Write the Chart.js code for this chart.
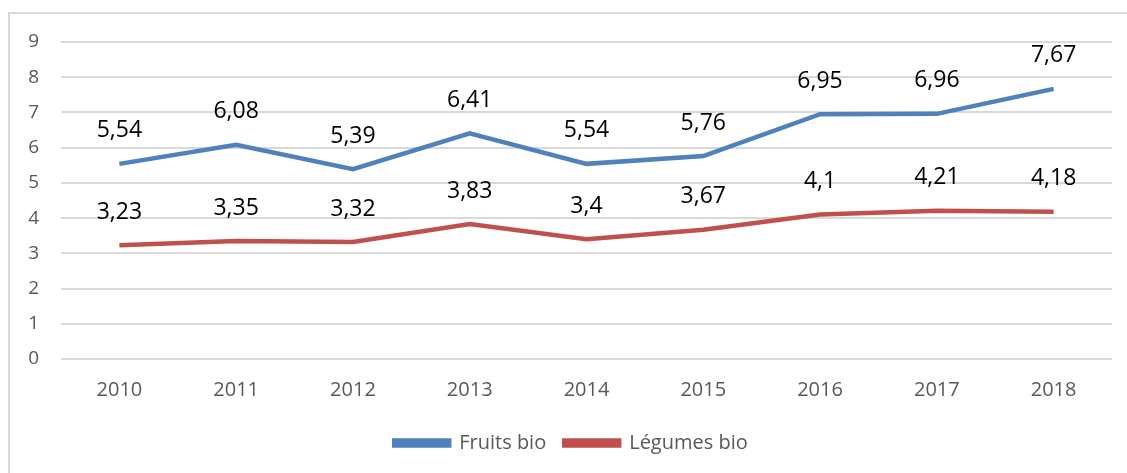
<!DOCTYPE html>
<html lang="fr">
<head>
    <meta charset="UTF-8">
    <title>Fruits et légumes bio</title>
    <script src="https://cdn.jsdelivr.net/npm/chart.js@4.4.1/dist/chart.umd.min.js"></script>
    <style>
        body {
            margin: 0;
            background: #ffffff;
            font-family: "Open Sans", sans-serif;
        }
        .frame {
            position: absolute;
            left: 8px;
            top: 12px;
            width: 1140px;
            height: 480px;
            border-left: 2px solid #d9d9d9;
            border-top: 2px solid #d9d9d9;
        }
        .chart-container {
            position: absolute;
            left: 0;
            top: 0;
            width: 1127px;
            height: 473px;
        }
    </style>
</head>
<body>
    <div class="frame"></div>
    <div class="chart-container">
        <canvas id="bioChart"></canvas>
    </div>

    <script>
        const years = ['2010', '2011', '2012', '2013', '2014', '2015', '2016', '2017', '2018'];
        const fruitsBio = [5.54, 6.08, 5.39, 6.41, 5.54, 5.76, 6.95, 6.96, 7.67];
        const legumesBio = [3.23, 3.35, 3.32, 3.83, 3.4, 3.67, 4.1, 4.21, 4.18];

        const frNum = v => String(v).replace('.', ',');

        // draws the value above each point, like Excel data labels
        const valueLabels = {
            id: 'valueLabels',
            afterDatasetsDraw(chart) {
                const ctx = chart.ctx;
                ctx.save();
                ctx.font = '23px "Open Sans"';
                ctx.fillStyle = '#000000';
                ctx.textAlign = 'center';
                ctx.textBaseline = 'middle';
                chart.data.datasets.forEach((ds, i) => {
                    const meta = chart.getDatasetMeta(i);
                    meta.data.forEach((pt, j) => {
                        ctx.fillText(frNum(ds.data[j]), pt.x, pt.y - 33);
                    });
                });
                ctx.restore();
            }
        };

        // nudge the legend right so it is centred on the plot, as in Excel
        const legendShift = {
            id: 'legendShift',
            afterLayout(chart) {
                if (chart.legend) {
                    chart.legend.left += 15;
                    chart.legend.right += 15;
                }
            }
        };

        new Chart(document.getElementById('bioChart'), {
            type: 'line',
            data: {
                labels: years,
                datasets: [
                    {
                        label: 'Fruits bio',
                        data: fruitsBio,
                        borderColor: '#4f81bd',
                        backgroundColor: '#4f81bd',
                        borderWidth: 4.5,
                        pointRadius: 0,
                        tension: 0
                    },
                    {
                        label: 'Légumes bio',
                        data: legumesBio,
                        borderColor: '#c0504d',
                        backgroundColor: '#c0504d',
                        borderWidth: 4.5,
                        pointRadius: 0,
                        tension: 0
                    }
                ]
            },
            options: {
                responsive: true,
                maintainAspectRatio: false,
                animation: false,
                layout: {
                    padding: { top: 42, right: 15, bottom: 10, left: 0 }
                },
                plugins: {
                    legend: {
                        position: 'bottom',
                        labels: {
                            color: '#595959',
                            font: { family: '"Open Sans"', size: 20 },
                            boxWidth: 55,
                            boxHeight: 5,
                            padding: 18
                        }
                    },
                    tooltip: { enabled: false }
                },
                scales: {
                    x: {
                        offset: true,
                        grid: { display: false, drawTicks: false },
                        border: { display: false },
                        ticks: {
                            color: '#595959',
                            font: { family: '"Open Sans"', size: 20 },
                            padding: 19
                        },
                        afterFit(scale) { scale.height = 56; }
                    },
                    y: {
                        min: 0,
                        max: 9,
                        grid: { color: '#d9d9d9', lineWidth: 2, drawTicks: false },
                        border: { display: false },
                        ticks: {
                            stepSize: 1,
                            color: '#595959',
                            font: { family: '"Open Sans"', size: 19 },
                            padding: 22
                        },
                        afterFit(scale) { scale.width = 61; }
                    }
                }
            },
            plugins: [valueLabels, legendShift]
        });
    </script>
</body>
</html>
